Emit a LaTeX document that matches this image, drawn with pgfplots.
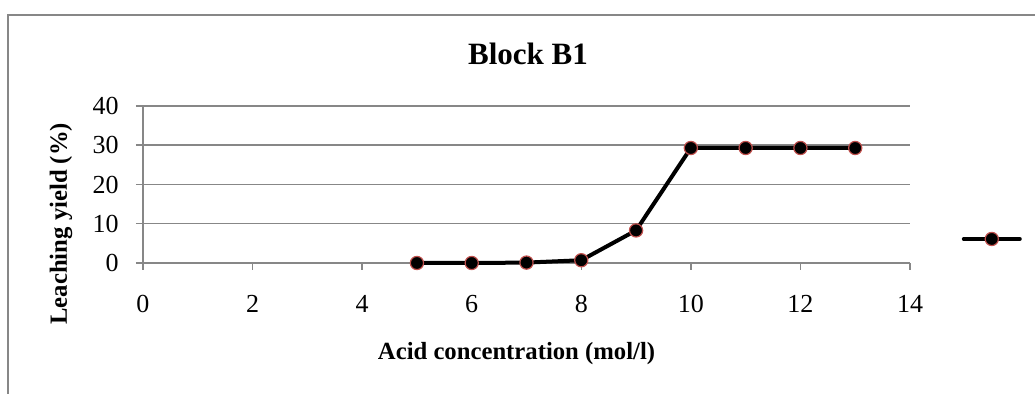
\documentclass[border=0pt]{standalone}
\usepackage{fontspec}
\setmainfont{Liberation Serif}
\usepackage{pgfplots}
\pgfplotsset{compat=1.18}
\definecolor{axgray}{HTML}{878787}
\definecolor{mkred}{HTML}{C0504D}
\begin{document}
\begin{tikzpicture}
\useasboundingbox (0,0) rectangle (517.5pt,197pt);
\draw[axgray, line width=1pt] (4pt,0pt) -- (4pt,189.5pt) -- (517.5pt,189.5pt);
\begin{axis}[
  at={(71.5pt,65.5pt)}, anchor=south west,
  scale only axis, width=383.5pt, height=78.5pt,
  xmin=0, xmax=14, ymin=0, ymax=40,
  xtick={0,2,...,14}, ytick={0,10,...,40},
  axis lines=left, axis line style={axgray, line width=0.75pt, -},
  tick align=outside, major tick length=3.5pt,
  tick style={axgray, line width=0.75pt},
  xtick pos=bottom, ytick pos=left,
  ymajorgrids, grid style={axgray, line width=0.75pt},
  /pgf/number format/assume math mode=true,
  ticklabel style={font=\fontsize{13}{15}\selectfont, inner sep=0pt},
  yticklabel shift=8.5pt, xticklabel shift=12.5pt,
  clip=false,
  legend style={at={(axis description cs:1.067,0.153)}, anchor=west, draw=none, fill=none, inner sep=0pt, nodes={inner sep=0pt}},
  legend image code/.code={\draw[mark repeat=2,mark phase=2,#1] plot coordinates {(0pt,0pt) (14pt,0pt) (28pt,0pt)};},
]
\addplot[black, line width=2pt, line join=round, line cap=round, mark=*, mark size=3.3pt, mark options={fill=black, draw=mkred, line width=0.6pt}] coordinates {
(5,0) (6,0) (7,0.1) (8,0.7) (9,8.3) (10,29.3) (11,29.3) (12,29.3) (13,29.3)};
\addlegendentry{}
\node[xshift=-41pt, rotate=90, anchor=center, inner sep=0pt, font=\bfseries\fontsize{12.35}{14}\selectfont] at (axis description cs:0,0.25) {Leaching yield (\%)};
\node[anchor=base, inner sep=0pt, yshift=20.5pt, font=\bfseries\fontsize{15.5}{18}\selectfont] at (axis description cs:0.502,1) {Block B1};
\node[anchor=base, inner sep=0pt, yshift=-48.5pt, font=\bfseries\fontsize{12.35}{14}\selectfont] at (axis description cs:0.487,0) {Acid concentration (mol/l)};
\end{axis}
\end{tikzpicture}
\end{document}
